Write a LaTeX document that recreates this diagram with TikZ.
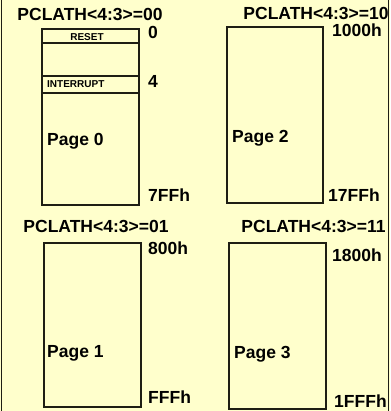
\documentclass[tikz,border=0pt]{standalone}
\usepackage{fontspec}
\setmainfont{Liberation Sans}
\definecolor{pgBg}{RGB}{255,255,204}
\definecolor{pgLn}{RGB}{30,30,20}

\begin{document}
\begin{tikzpicture}[x=1pt,y=-1pt,
  big/.style={anchor=base,inner sep=0pt,font=\fontsize{17.5}{18}\selectfont\bfseries},
  addr/.style={big,anchor=base west},
  tiny/.style={anchor=base,inner sep=0pt,font=\fontsize{10}{11}\selectfont\bfseries},
  box/.style={draw=pgLn,line width=1.2pt},
  sep/.style={draw=pgLn,line width=2pt}]
\fill[pgBg] (0,0) rectangle (390,411);
\useasboundingbox (0,0) rectangle (390,411);
\draw[pgLn,line width=1pt] (1.5,0)--(1.5,411) (388.5,0)--(388.5,411);
% page 0
\draw[box] (42,29) rectangle (139,205);
\draw[sep] (42,43)--(139,43) (42,76)--(139,76) (42,93)--(139,93);
\node[big] (t0) at (90,21) {PCLATH<4:3>=00};
\node[tiny] (rst) at (87,40.5) {RESET};
\node[tiny,anchor=base west] (irq) at (47,88) {INTERRUPT};
\node[addr] (a0) at (148,39) {0};
\node[addr] (a4) at (148,88) {4};
\node[addr] (p0) at (47,146) {Page 0};
\node[addr] (e0) at (148,202) {7FFh};
% page 2
\draw[box] (227,27) rectangle (323,203);
\node[big] (t2) at (316,19.5) {PCLATH<4:3>=10};
\node[addr] (a2) at (332,37) {1000h};
\node[addr] (p2) at (232,143) {Page 2};
\node[addr] (e2) at (328,202) {17FFh};
% page 1
\draw[box] (44,243) rectangle (141,407);
\node[big] (t1) at (96,232) {PCLATH<4:3>=01};
\node[addr] (a1) at (148,254) {800h};
\node[addr] (p1) at (47,357) {Page 1};
\node[addr] (e1) at (148,403) {FFFh};
% page 3
\draw[box] (229,243) rectangle (326,409);
\node[big] (t3) at (313.5,232) {PCLATH<4:3>=11};
\node[addr] (a3) at (332,261) {1800h};
\node[addr] (p3) at (234,358) {Page 3};
\node[addr] (e3) at (334,407) {1FFFh};
\end{tikzpicture}
\end{document}
